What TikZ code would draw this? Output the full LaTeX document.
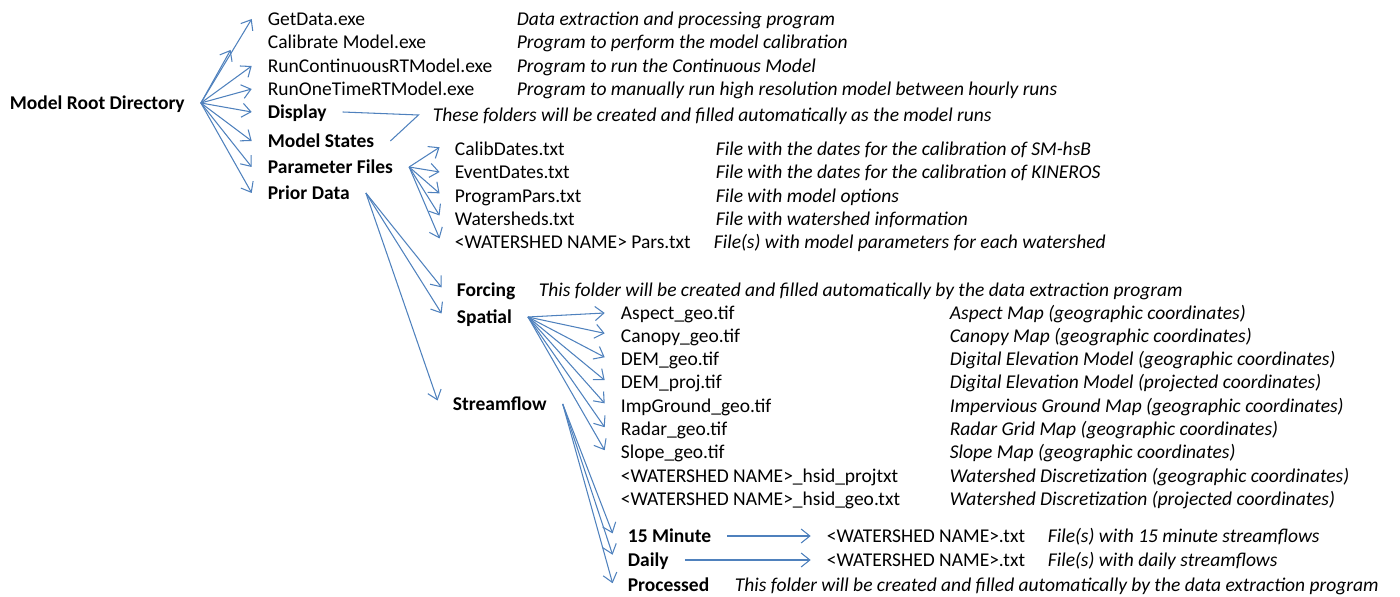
\documentclass[tikz,border=0pt]{standalone}
\usepackage{fontspec}
\setmainfont{Carlito}
\usetikzlibrary{arrows.meta}
\definecolor{linkblue}{HTML}{4F81BD}

\begin{document}
\begin{tikzpicture}[x=0.02cm, y=-0.02cm] % one unit = one pixel, y going down

  % Styles for folders, files, notes and the blue links
  \tikzset{
    fileitem/.style={anchor=west, inner sep=2pt, text height=9.2pt, text depth=1.5pt,
      font=\fontsize{11.1}{13}\selectfont},
    folder/.style={fileitem, font=\fontsize{11.1}{13}\selectfont\bfseries},
    notetext/.style={fileitem, font=\fontsize{11.1}{13}\selectfont\itshape},
    branch/.style={linkblue, line width=0.6pt, -{Straight Barb[length=5pt,width=8pt]}},
    joinline/.style={linkblue, line width=0.6pt}
  }

  \useasboundingbox (0,0) rectangle (1400,597);

  % Root folder and its contents
  \node[folder] (root) at (6,103) {Model Root Directory};

  \node[fileitem] (getdata) at (264,19) {GetData.exe};
  \node[fileitem] (calib) at (264,42) {Calibrate Model.exe};
  \node[fileitem] (runcont) at (264,66) {RunContinuousRTModel.exe};
  \node[fileitem] (runone) at (264,89) {RunOneTimeRTModel.exe};
  \node[folder] (display) at (264,112) {Display};
  \node[folder] (states) at (264,141) {Model States};
  \node[folder] (pfiles) at (264,167) {Parameter Files};
  \node[folder] (prior) at (264,193) {Prior Data};

  \node[notetext] (getdata_n) at (513,19) {Data extraction and processing program};
  \node[notetext] (calib_n) at (513,42) {Program to perform the model calibration};
  \node[notetext] (runcont_n) at (513,66) {Program to run the Continuous Model};
  \node[notetext] (runone_n) at (513,89) {Program to manually run high resolution model between hourly runs};
  \node[notetext] (display_n) at (429,115) {These folders will be created and filled automatically as the model runs};

  % Parameter Files contents
  \node[fileitem] (calibdates) at (451,149) {CalibDates.txt};
  \node[fileitem] (eventdates) at (451,172) {EventDates.txt};
  \node[fileitem] (progpars) at (451,196) {ProgramPars.txt};
  \node[fileitem] (sheds) at (451,219) {Watersheds.txt};
  \node[fileitem] (shedpars) at (451,242) {<WATERSHED NAME> Pars.txt};

  \node[notetext] (calibdates_n) at (712,149) {File with the dates for the calibration of SM-hsB};
  \node[notetext] (eventdates_n) at (712,172) {File with the dates for the calibration of KINEROS};
  \node[notetext] (progpars_n) at (712,196) {File with model options};
  \node[notetext] (sheds_n) at (712,219) {File with watershed information};
  \node[notetext] (shedpars_n) at (710,242) {File(s) with model parameters for each watershed};

  % Prior Data contents
  \node[folder] (forcing) at (453,290) {Forcing};
  \node[folder] (spatial) at (453,317) {Spatial};
  \node[folder] (flow) at (449,404) {Streamflow};

  \node[notetext] (forcing_n) at (535,290) {This folder will be created and filled automatically by the data extraction program};

  % Spatial contents
  \node[fileitem] (aspect) at (617,313) {Aspect\_geo.tif};
  \node[fileitem] (canopy) at (617,336) {Canopy\_geo.tif};
  \node[fileitem] (demgeo) at (617,359) {DEM\_geo.tif};
  \node[fileitem] (demproj) at (617,382) {DEM\_proj.tif};
  \node[fileitem] (impground) at (617,406) {ImpGround\_geo.tif};
  \node[fileitem] (radar) at (617,429) {Radar\_geo.tif};
  \node[fileitem] (slope) at (617,452) {Slope\_geo.tif};
  \node[fileitem] (hsidproj) at (617,476) {<WATERSHED NAME>\_hsid\_projtxt};
  \node[fileitem] (hsidgeo) at (617,499) {<WATERSHED NAME>\_hsid\_geo.txt};

  \node[notetext] (aspect_n) at (946,313) {Aspect Map (geographic coordinates)};
  \node[notetext] (canopy_n) at (946,336) {Canopy Map (geographic coordinates)};
  \node[notetext] (demgeo_n) at (946,359) {Digital Elevation Model (geographic coordinates)};
  \node[notetext] (demproj_n) at (946,382) {Digital Elevation Model (projected coordinates)};
  \node[notetext] (impground_n) at (946,406) {Impervious Ground Map (geographic coordinates)};
  \node[notetext] (radar_n) at (946,429) {Radar Grid Map (geographic coordinates)};
  \node[notetext] (slope_n) at (946,452) {Slope Map (geographic coordinates)};
  \node[notetext] (hsidproj_n) at (946,476) {Watershed Discretization (geographic coordinates)};
  \node[notetext] (hsidgeo_n) at (946,499) {Watershed Discretization (projected coordinates)};

  % Streamflow contents
  \node[folder] (min15) at (624,536) {15 Minute};
  \node[folder] (daily) at (624,560) {Daily};
  \node[folder] (processed) at (624,585) {Processed};

  \node[fileitem] (min15_file) at (823,536) {<WATERSHED NAME>.txt};
  \node[fileitem] (daily_file) at (823,560) {<WATERSHED NAME>.txt};
  \node[notetext] (min15_n) at (1044,536) {File(s) with 15 minute streamflows};
  \node[notetext] (daily_n) at (1044,560) {File(s) with daily streamflows};
  \node[notetext] (processed_n) at (731,585) {This folder will be created and filled automatically by the data extraction program};

  % Fan points the arrows start from
  \coordinate (root_fan) at ([xshift=7pt]root.east);
  \coordinate (pfiles_fan) at ([xshift=7pt]pfiles.east);
  \coordinate (prior_fan) at ([xshift=7pt]prior.east);
  \coordinate (spatial_fan) at ([xshift=7pt]spatial.east);
  \coordinate (flow_fan) at ([xshift=7pt]flow.east);
  \coordinate (display_join) at ([xshift=-6pt]display_n.west);

  % Root arrows
  \draw[branch] (root_fan) -- ([xshift=-7pt]getdata.west);
  \draw[branch] (root_fan) -- ([xshift=-19pt,yshift=-4.5pt]calib.west);
  \draw[branch] (root_fan) -- ([xshift=-7pt]runcont.west);
  \draw[branch] (root_fan) -- ([xshift=-7pt]runone.west);
  \draw[branch] (root_fan) -- ([xshift=-7pt]display.west);
  \draw[branch] (root_fan) -- ([xshift=-7pt]states.west);
  \draw[branch] (root_fan) -- ([xshift=-7pt]pfiles.west);
  \draw[branch] (root_fan) -- ([xshift=-7pt]prior.west);

  % Display and Model States share one note
  \draw[joinline] ([xshift=7pt]display.east) -- (display_join) -- ([xshift=7pt]states.east);

  % Parameter Files arrows
  \draw[branch] (pfiles_fan) -- ([xshift=-6.5pt,yshift=1pt]calibdates.west);
  \draw[branch] (pfiles_fan) -- ([xshift=-6.5pt]eventdates.west);
  \draw[branch] (pfiles_fan) -- ([xshift=-6.5pt,yshift=1.5pt]progpars.west);
  \draw[branch] (pfiles_fan) -- ([xshift=-6.5pt,yshift=2pt]sheds.west);
  \draw[branch] (pfiles_fan) -- ([xshift=-6.5pt,yshift=2pt]shedpars.west);

  % Prior Data arrows
  \draw[branch] (prior_fan) -- ([xshift=-6.5pt,yshift=1.5pt]forcing.west);
  \draw[branch] (prior_fan) -- ([xshift=-6.5pt,yshift=2pt]spatial.west);
  \draw[branch] (prior_fan) -- ([xshift=-6.5pt,yshift=2pt]flow.west);

  % Spatial arrows
  \draw[branch] (spatial_fan) -- ([xshift=-7pt]aspect.west);
  \draw[branch] (spatial_fan) -- ([xshift=-7pt,yshift=1.5pt]canopy.west);
  \draw[branch] (spatial_fan) -- ([xshift=-7pt,yshift=1pt]demgeo.west);
  \draw[branch] (spatial_fan) -- ([xshift=-7pt,yshift=1pt]demproj.west);
  \draw[branch] (spatial_fan) -- ([xshift=-7pt,yshift=1.5pt]impground.west);
  \draw[branch] (spatial_fan) -- ([xshift=-7pt,yshift=1pt]radar.west);
  \draw[branch] (spatial_fan) -- ([xshift=-7pt,yshift=1pt]slope.west);

  % Streamflow arrows
  \draw[branch] (flow_fan) -- ([xshift=-6.5pt,yshift=1.5pt]min15.west);
  \draw[branch] (flow_fan) -- ([xshift=-6.5pt,yshift=3pt]daily.west);
  \draw[branch] (flow_fan) -- ([xshift=-6.5pt,yshift=1pt]processed.west);

  % Files written for each time step
  \draw[branch] ([xshift=7pt]min15.east) -- ([xshift=-7pt]min15_file.west);
  \draw[branch] ([xshift=7pt]daily.east) -- ([xshift=-7pt]daily_file.west);

\end{tikzpicture}
\end{document}
